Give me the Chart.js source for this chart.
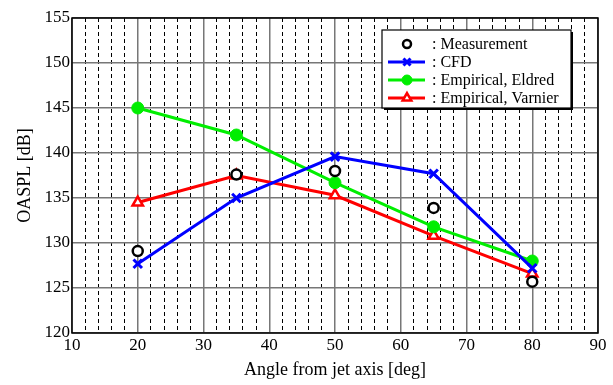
<!DOCTYPE html>
<html>
<head>
<meta charset="utf-8">
<script src="https://cdn.jsdelivr.net/npm/chart.js@4"></script>
<style>
body { margin: 0; background: #fff; }
#wrap { width: 613px; height: 385px; }
</style>
</head>
<body>
<div id="wrap"><canvas id="oaspl" width="613" height="385"></canvas></div>
<script>
// donnees
var angles = [20, 35, 50, 65, 80];
var measurement = [129.1, 137.6, 138.0, 133.9, 125.7];
var cfd = [127.7, 135.0, 139.6, 137.7, 127.2];
var eldred = [145.0, 142.0, 136.7, 131.8, 128.0];
var varnier = [134.5, 137.5, 135.3, 130.8, 126.6];
var labels = [': Measurement', ': CFD', ': Empirical, Eldred', ': Empirical, Varnier'];

var serif = '"Liberation Serif", "DejaVu Serif", serif';

function pts(values) {
    return angles.map(function (a, i) { return { x: a, y: values[i] }; });
}

// cadre noir autour de la zone de trace
var framePlugin = {
    id: 'frame',
    afterDraw: function (chart) {
        var c = chart.ctx, a = chart.chartArea;
        c.save();
        c.strokeStyle = '#000';
        c.lineWidth = 1.5;
        c.strokeRect(a.left, a.top, a.right - a.left, a.bottom - a.top);
        c.restore();
    }
};

// legende dessinee a la main dans la zone de trace (avec ombre)
var legendPlugin = {
    id: 'boxLegend',
    afterDraw: function (chart) {
        var c = chart.ctx;
        var x = 382, y = 30, w = 189, h = 78;
        c.save();
        c.fillStyle = '#000';
        c.fillRect(x + 2, y + 2, w, h);
        c.fillStyle = '#fff';
        c.fillRect(x, y, w, h);
        c.strokeStyle = '#000';
        c.lineWidth = 1.2;
        c.strokeRect(x, y, w, h);
        chart.data.datasets.forEach(function (ds, i) {
            var ry = 44 + i * 18;
            if (ds.showLine !== false) {
                c.strokeStyle = ds.borderColor;
                c.lineWidth = ds.borderWidth;
                c.beginPath();
                c.moveTo(388, ry);
                c.lineTo(425, ry);
                c.stroke();
            }
            c.fillStyle = ds.pointBackgroundColor;
            c.strokeStyle = ds.pointBorderColor;
            c.lineWidth = ds.pointBorderWidth;
            Chart.helpers.drawPoint(c, {
                pointStyle: ds.pointStyle,
                radius: ds.pointRadius - 1,
                borderWidth: ds.pointBorderWidth
            }, 407, ry);
            c.fillStyle = '#000';
            c.font = '16px ' + serif;
            c.textBaseline = 'middle';
            c.fillText(labels[i], 432, ry + 1);
        });
        c.restore();
    }
};

var ctx = document.getElementById('oaspl').getContext('2d');
var chart = new Chart(ctx, {
    type: 'line',
    data: {
        datasets: [{
            label: labels[0],
            data: pts(measurement),
            showLine: false,
            borderColor: '#000',
            borderWidth: 0,
            pointStyle: 'circle',
            pointRadius: 5,
            pointBorderWidth: 2.5,
            pointBorderColor: '#000',
            pointBackgroundColor: '#fff'
        }, {
            label: labels[1],
            data: pts(cfd),
            borderColor: '#0000ff',
            borderWidth: 3,
            pointStyle: 'crossRot',
            pointRadius: 6,
            pointBorderWidth: 3,
            pointBorderColor: '#0000ff',
            pointBackgroundColor: '#0000ff'
        }, {
            label: labels[2],
            data: pts(eldred),
            borderColor: '#00ee00',
            borderWidth: 3,
            pointStyle: 'circle',
            pointRadius: 6,
            pointBorderWidth: 1,
            pointBorderColor: '#00ee00',
            pointBackgroundColor: '#00ee00'
        }, {
            label: labels[3],
            data: pts(varnier),
            borderColor: '#ff0000',
            borderWidth: 3,
            pointStyle: 'triangle',
            pointRadius: 6,
            pointBorderWidth: 2.5,
            pointBorderColor: '#ff0000',
            pointBackgroundColor: '#fff'
        }]
    },
    options: {
        responsive: false,
        animation: false,
        layout: { padding: { top: 18, right: 15, left: 0, bottom: 0 } },
        plugins: { legend: { display: false }, tooltip: { enabled: false } },
        scales: {
            x: {
                type: 'linear', min: 10, max: 90,
                afterFit: function (s) { s.height = 52; },
                ticks: { stepSize: 10, color: '#000', padding: 2, font: { family: serif, size: 17 } },
                grid: { color: '#777', lineWidth: 1.5, drawTicks: false },
                border: { display: false },
                title: { display: true, text: 'Angle from jet axis [deg]', color: '#000', padding: { top: 3 }, font: { family: serif, size: 18 } }
            },
            xMinor: {
                type: 'linear', min: 10, max: 90, position: 'bottom', display: true,
                afterFit: function (s) { s.height = 0; },
                ticks: { stepSize: 2, display: false },
                grid: {
                    drawTicks: false, lineWidth: 1,
                    color: function (c) { return (c.tick && c.tick.value % 10 === 0) ? 'rgba(0,0,0,0)' : '#000'; }
                },
                border: { display: false, dash: [4, 3] }
            },
            y: {
                min: 120, max: 155,
                afterFit: function (s) { s.width = 72; },
                ticks: { stepSize: 5, color: '#000', padding: 2, font: { family: serif, size: 17 } },
                grid: { color: '#777', lineWidth: 1.5, drawTicks: false },
                border: { display: false },
                title: { display: true, text: 'OASPL [dB]', color: '#000', padding: { top: 14, bottom: 0 }, font: { family: serif, size: 18 } }
            }
        }
    },
    plugins: [framePlugin, legendPlugin]
});
</script>
</body>
</html>
